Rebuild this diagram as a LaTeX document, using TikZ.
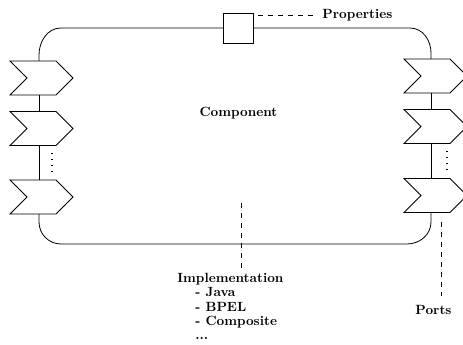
\documentclass[tikz,border=0pt]{standalone}
\usetikzlibrary{shapes.symbols,calc}
\begin{document}
\begin{tikzpicture}[x=0.75pt,y=-0.75pt, line width=0.6pt,
  port/.style={draw, signal, signal from=west, signal to=east,
    minimum width=47.25pt, minimum height=25.5pt, inner sep=0pt, outer sep=0pt},
  lbl/.style={font=\bfseries, inner sep=0pt},
  leader/.style={dash pattern=on 3.75pt off 3.75pt},
  dotcol/.style={line width=0.9pt, dash pattern=on 0.75pt off 3.75pt}]
\useasboundingbox (0,0) rectangle (463,345);

% ports
\node[port] (l1) at (41.5,78) {};
\node[port] (l2) at (41.5,128.5) {};
\node[port] (l3) at (41.5,197) {};
\node[port] (r1) at (435.5,76) {};
\node[port] (r2) at (435.5,126.5) {};
\node[port] (r3) at (435.5,195.5) {};

% properties box
\node[draw, minimum size=22.5pt, inner sep=0pt, outer sep=0pt] (prop) at (238,28) {};

% corner coordinates
\coordinate (lx) at (39,0);
\coordinate (rx) at (431,0);
\coordinate (tl) at (61,28);
\coordinate (tr) at (410,28);
\coordinate (bl) at (61,244);
\coordinate (br) at (407,244);

% vertical lines between ports
\draw (l1.south -| lx) -- (l2.north -| lx);
\draw (l2.south -| lx) -- (l3.north -| lx);
\draw (r1.south -| rx) -- (r2.north -| rx);
\draw (r2.south -| rx) -- (r3.north -| rx);

% component outline
\draw (l1.north -| lx) -- ++(0,-6) to[out=90,in=180] (tl) -- (prop.west);
\draw (prop.east) -- (tr) to[out=0,in=90] ($(r1.north -| rx)+(0,-6)$) -- (r1.north -| rx);
\draw (l3.south -| lx) -- ++(0,8) to[out=-90,in=180] (bl) -- (br) to[out=0,in=-90] ++(24,-22) -- (r3.south -| rx);

% dots
\draw[dotcol] (52,153.5) -- (52,175);
\draw[dotcol] (447,151.5) -- (447,173);

% labels
\node[lbl] (comp) at (238.5,113) {Component};
\node[lbl, anchor=west] (propt) at (322,15) {Properties};
\coordinate (pstart) at (258,15);
\draw[leader] (pstart) -- ([xshift=-3pt]propt.west);

\node[lbl, anchor=north west, align=left] (impl) at (177,273)
  {Implementation\\[-1.3pt]
   \hspace*{13.5pt}- Java\\[-1.3pt]
   \hspace*{13.5pt}- BPEL\\[-1.3pt]
   \hspace*{13.5pt}- Composite\\[-1.3pt]
   \hspace*{13.5pt}...};
\coordinate (itop) at (241,203);
\draw[leader] (itop) -- ++(0,66);

\node[lbl] (ports) at (433.5,310) {Ports};
\coordinate (ptop) at (441,222);
\draw[leader] (ptop) -- ++(0,74);
\end{tikzpicture}
\end{document}
